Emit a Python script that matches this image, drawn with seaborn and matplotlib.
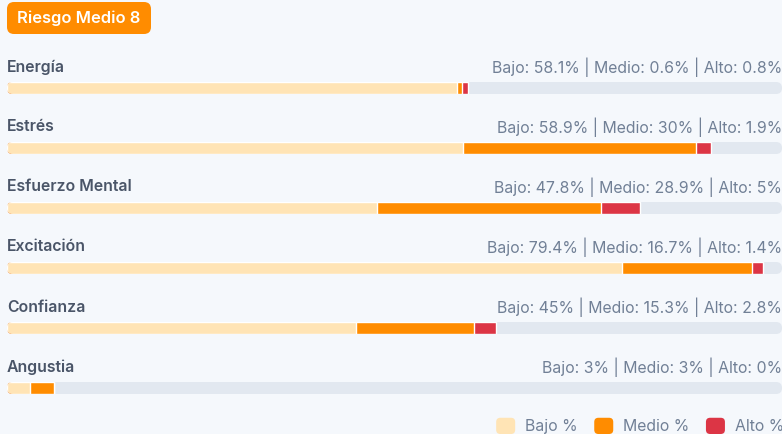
import matplotlib
matplotlib.use("Agg")
import matplotlib.pyplot as plt
from matplotlib.patches import FancyBboxPatch, Patch
from matplotlib.legend_handler import HandlerPatch
import seaborn as sns
import numpy as np

categories = ["Energía", "Estrés", "Esfuerzo Mental", "Excitación", "Confianza", "Angustia"]
bajo = [58.1, 58.9, 47.8, 79.4, 45, 3]
medio = [0.6, 30, 28.9, 16.7, 15.3, 3]
alto = [0.8, 1.9, 5, 1.4, 2.8, 0]
badge_text = "Riesgo Medio 8"
legend_labels = ["Bajo %", "Medio %", "Alto %"]

BG = "#f5f8fc"
TRACK = "#e2e8f0"
C_BAJO = "#ffe4b5"
C_MEDIO = "#ff8c00"
C_ALTO = "#dc3545"
LABEL_C = "#4a5568"
INFO_C = "#718096"

sns.set_theme(style="white")
plt.rcParams["font.family"] = ["Inter", "DejaVu Sans"]

W, H = 782, 434
fig = plt.figure(figsize=(W / 100, H / 100), dpi=100, facecolor=BG)
left_px, right_px = 7, 782
ax = fig.add_axes([left_px / W, 0, (right_px - left_px) / W, 1])
ax.set_facecolor(BG)

n = len(categories)
bar_h = 12 / 60
track = [100] * n
c3 = list(np.array(bajo) + np.array(medio) + np.array(alto))
c2 = list(np.array(bajo) + np.array(medio))

sns.barplot(x=track, y=categories, orient="h", color=TRACK, width=bar_h, ax=ax, saturation=1)
track_rects = list(ax.patches)
sns.barplot(x=c3, y=categories, orient="h", color=C_ALTO, width=bar_h, ax=ax, saturation=1)
sns.barplot(x=c2, y=categories, orient="h", color=C_MEDIO, width=bar_h, ax=ax, saturation=1)
sns.barplot(x=bajo, y=categories, orient="h", color=C_BAJO, width=bar_h, ax=ax, saturation=1)

px_x = 100 / (right_px - left_px)   # data units per px in x
px_y = 1 / 60                        # data units per px in y
asp = px_y / px_x

ax.set_xlim(0, 100)
ax.set_ylim((H - 88) / 60, -88 / 60)

# rounded tracks + clip stacked bars
clips = []
for r in track_rects:
    x0, y0 = r.get_x(), r.get_y()
    w, h = r.get_width(), r.get_height()
    if h < 0:
        y0, h = y0 + h, -h
    fb = FancyBboxPatch((x0, y0), w, h, boxstyle=f"round,pad=0,rounding_size={6 * px_x}",
                        mutation_aspect=asp, fc=TRACK, ec="none", zorder=1)
    ax.add_patch(fb)
    r.remove()
    clips.append((y0 + h / 2, fb))
for p in ax.patches:
    if isinstance(p, FancyBboxPatch):
        continue
    cy = p.get_y() + p.get_height() / 2
    for yc, fb in clips:
        if abs(yc - cy) < 0.01:
            p.set_clip_path(fb)
            p.set_zorder(2)

def fmt(v):
    return f"{v:g}"

FS = 11.4
for i, cat in enumerate(categories):
    ly = i - 21 / 60
    ax.text(0, ly, cat, ha="left", va="center", fontsize=FS, fontweight="semibold", color=LABEL_C)
    info = f"Bajo: {fmt(bajo[i])}% | Medio: {fmt(medio[i])}% | Alto: {fmt(alto[i])}%"
    ax.text(100, ly, info, ha="right", va="center", fontsize=FS, color=INFO_C)

# badge
bx0, bx1 = 0, 144 * px_x
by_top, by_bot = (2 - 88) / 60, (34 - 88) / 60
badge = FancyBboxPatch((bx0, by_top), bx1 - bx0, by_bot - by_top,
                       boxstyle=f"round,pad=0,rounding_size={7 * px_x}",
                       mutation_aspect=asp, fc=C_MEDIO, ec="none", zorder=3, clip_on=False)
ax.add_patch(badge)
ax.text((bx0 + bx1) / 2, (by_top + by_bot) / 2 + 0.5 / 60, badge_text, ha="center", va="center",
        fontsize=11.9, fontweight="semibold", color="white", zorder=4)


def rounded_handle(legend, orig_handle, xdescent, ydescent, width, height, fontsize):
    return FancyBboxPatch((-xdescent, -ydescent), width, height,
                          boxstyle="round,pad=0,rounding_size=3")


handles = [Patch(fc=C_BAJO, ec="none"), Patch(fc=C_MEDIO, ec="none"), Patch(fc=C_ALTO, ec="none")]
leg = ax.legend(handles, legend_labels, ncol=3, frameon=False, loc="center right",
                bbox_to_anchor=(1.0 + 2 / 775, 1 - 426 / H), fontsize=FS,
                handlelength=1.2, handleheight=1.2, handletextpad=0.62, columnspacing=1.05,
                borderaxespad=0, borderpad=0,
                handler_map={Patch: HandlerPatch(patch_func=rounded_handle)})
for t in leg.get_texts():
    t.set_color(INFO_C)

ax.set_xlabel("")
ax.set_ylabel("")
ax.set_xticks([])
ax.set_yticks([])
for s in ax.spines.values():
    s.set_visible(False)

fig.savefig("out.png", dpi=100, facecolor=BG)
